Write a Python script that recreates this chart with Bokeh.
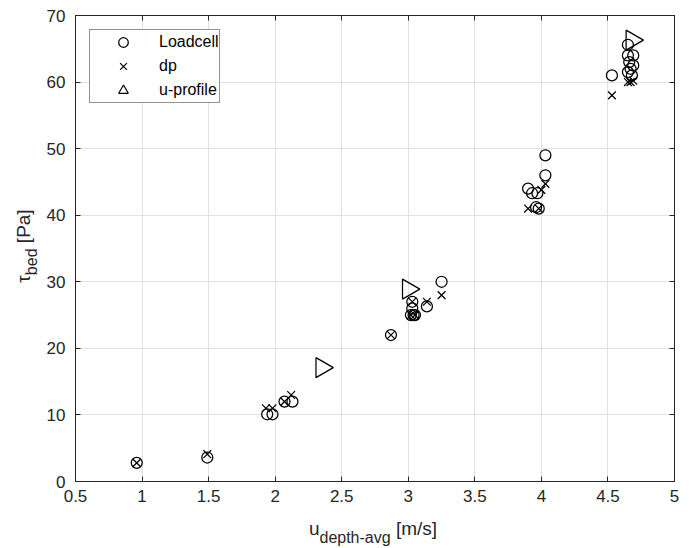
from bokeh.plotting import figure
from bokeh.models import Range1d, LinearAxis, FixedTicker, Div, CustomLabelingPolicy
from bokeh.layouts import row, column
from bokeh.embed import file_html
from bokeh.resources import INLINE
import numpy as np

# ---------------- data ----------------
loadcell_u = [0.96, 1.49, 1.94, 1.98, 2.07, 2.13, 2.87, 3.02, 3.04, 3.05, 3.03, 3.03,
              3.14, 3.25, 3.90, 3.93, 3.97, 3.96, 3.98, 4.03, 4.03, 4.53, 4.65, 4.65,
              4.69, 4.66, 4.69, 4.67, 4.65, 4.68]
loadcell_tau = [2.8, 3.6, 10.1, 10.1, 12.0, 12.0, 22.0, 25.0, 25.0, 25.0, 26.0, 27.0,
                26.3, 30.0, 44.0, 43.3, 43.3, 41.2, 41.0, 46.0, 49.0, 61.0, 65.6, 64.0,
                64.0, 63.0, 62.5, 62.0, 61.5, 61.0]
dp_u = [0.96, 1.49, 1.93, 1.98, 2.07, 2.12, 2.87, 3.02, 3.05, 3.03, 3.14, 3.25,
        3.90, 3.98, 4.00, 4.03, 4.53, 4.65, 4.67, 4.69]
dp_tau = [2.8, 4.1, 11.0, 11.0, 12.0, 13.0, 22.0, 25.0, 25.0, 27.0, 27.0, 28.0,
          41.0, 41.0, 43.8, 44.7, 58.0, 60.0, 60.0, 60.2]
uprof_u = [2.35, 3.00, 4.68]
uprof_tau = [17.1, 28.9, 66.3]

x_ticks = [0.5, 1.0, 1.5, 2.0, 2.5, 3.0, 3.5, 4.0, 4.5, 5.0]
x_tick_labels = ["0.5", "1", "1.5", "2", "2.5", "3", "3.5", "4", "4.5", "5"]
y_ticks = [0, 10, 20, 30, 40, 50, 60, 70]
y_tick_labels = ["0", "10", "20", "30", "40", "50", "60", "70"]

# ---------------- layout ----------------
DARK = "#262626"
FONT = "Liberation Sans"
YLAB_W = 40          # width of the y-title column
FIG_LEFT = 35        # left border of the figure (tick labels)
FW, FH = 599, 466    # frame size
FIG_TOP, FIG_RIGHT, FIG_BOTTOM = 15, 10, 30
FIG_H = FIG_TOP + FH + FIG_BOTTOM

p = figure(frame_width=FW, frame_height=FH,
           x_range=Range1d(0.5, 5.0), y_range=Range1d(0, 70),
           output_backend="svg", toolbar_location=None,
           min_border_left=FIG_LEFT, min_border_top=FIG_TOP,
           min_border_right=FIG_RIGHT, min_border_bottom=FIG_BOTTOM)
p.background_fill_color = "white"
p.border_fill_color = "white"
p.outline_line_color = DARK
p.outline_line_width = 1

p.xgrid.ticker = FixedTicker(ticks=x_ticks)
p.ygrid.ticker = FixedTicker(ticks=y_ticks)
for g in (p.xgrid[0], p.ygrid[0]):
    g.grid_line_color = "#e2e2e2"
    g.grid_line_width = 1

xa = p.xaxis[0]
ya = p.yaxis[0]
xa.ticker = FixedTicker(ticks=x_ticks)
ya.ticker = FixedTicker(ticks=y_ticks)
xa.major_label_overrides = {t: l for t, l in zip(x_ticks, x_tick_labels)}
ya.major_label_overrides = {t: l for t, l in zip(y_ticks, y_tick_labels)}
xa.major_label_standoff = 8
ya.major_label_standoff = 10
for ax in (xa, ya):
    ax.axis_line_color = DARK
    ax.major_tick_line_color = DARK
    ax.major_tick_in = 5
    ax.major_tick_out = 0
    ax.minor_tick_line_color = None
    ax.major_label_text_font = FONT
    ax.major_label_text_font_size = "17px"
    ax.major_label_text_color = DARK

no_labels = CustomLabelingPolicy(code="""
    for (let i = 0; i < indices.size; i++) { indices.unset(i) }
    return indices
""")
for loc in ("above", "right"):
    ax = LinearAxis(ticker=FixedTicker(ticks=x_ticks if loc == "above" else y_ticks))
    ax.axis_line_color = DARK
    ax.major_tick_line_color = DARK
    ax.major_tick_in = 5
    ax.major_tick_out = 0
    ax.minor_tick_line_color = None
    ax.major_label_policy = no_labels
    ax.major_label_standoff = 0
    ax.major_label_text_font_size = "10px"
    p.add_layout(ax, loc)

p.scatter(loadcell_u, loadcell_tau, marker="circle", size=11, fill_color=None,
          line_color="black", line_width=1.25, legend_label="Loadcell")
p.scatter(dp_u, dp_tau, marker="x", size=11, line_color="black", line_width=1.25,
          legend_label="dp")
p.scatter(uprof_u, uprof_tau, marker="triangle", angle=-np.pi / 2, size=20,
          fill_color=None, line_color="black", line_width=1.25, legend_label="u-profile")

lg = p.legend[0]
lg.location = "top_left"
lg.margin = 14
lg.padding = 0
lg.spacing = 0
lg.glyph_height = 24
lg.glyph_width = 66
lg.label_standoff = 3
lg.label_height = 20
lg.label_text_font = FONT
lg.label_text_font_size = "16px"
lg.label_text_color = "black"
lg.border_line_color = DARK
lg.border_line_width = 1
lg.background_fill_color = "white"
lg.background_fill_alpha = 1.0

# ---------------- axis titles (HTML with subscripts) ----------------
font_css = f"font-family:'{FONT}'; color:{DARK}; white-space:nowrap;"
ytitle = Div(
    text=(f'<div style="position:relative; width:{YLAB_W}px; height:{FIG_H}px;">'
          f'<div style="position:absolute; left:24px; top:246px; '
          f'transform:translate(-50%,-50%) rotate(-90deg); {font_css} font-size:19px; line-height:19px;">'
          f'\u03c4<span style="font-size:16px; position:relative; top:7px;">bed</span> [Pa]</div></div>'),
    width=YLAB_W, height=FIG_H, margin=0)

xtitle = Div(
    text=(f'<div style="position:relative; width:{YLAB_W + FIG_LEFT + FW + FIG_RIGHT}px; height:32px;">'
          f'<div style="position:absolute; left:373px; top:4px; transform:translateX(-50%); '
          f'{font_css} font-size:19px;">'
          f'u<span style="font-size:16px; position:relative; top:8px;">depth-avg</span> [m/s]</div></div>'),
    width=YLAB_W + FIG_LEFT + FW + FIG_RIGHT, height=32, margin=0)

layout = column(row(ytitle, p, spacing=0), xtitle, spacing=0)

open("out.html", "w").write(file_html(layout, INLINE))
